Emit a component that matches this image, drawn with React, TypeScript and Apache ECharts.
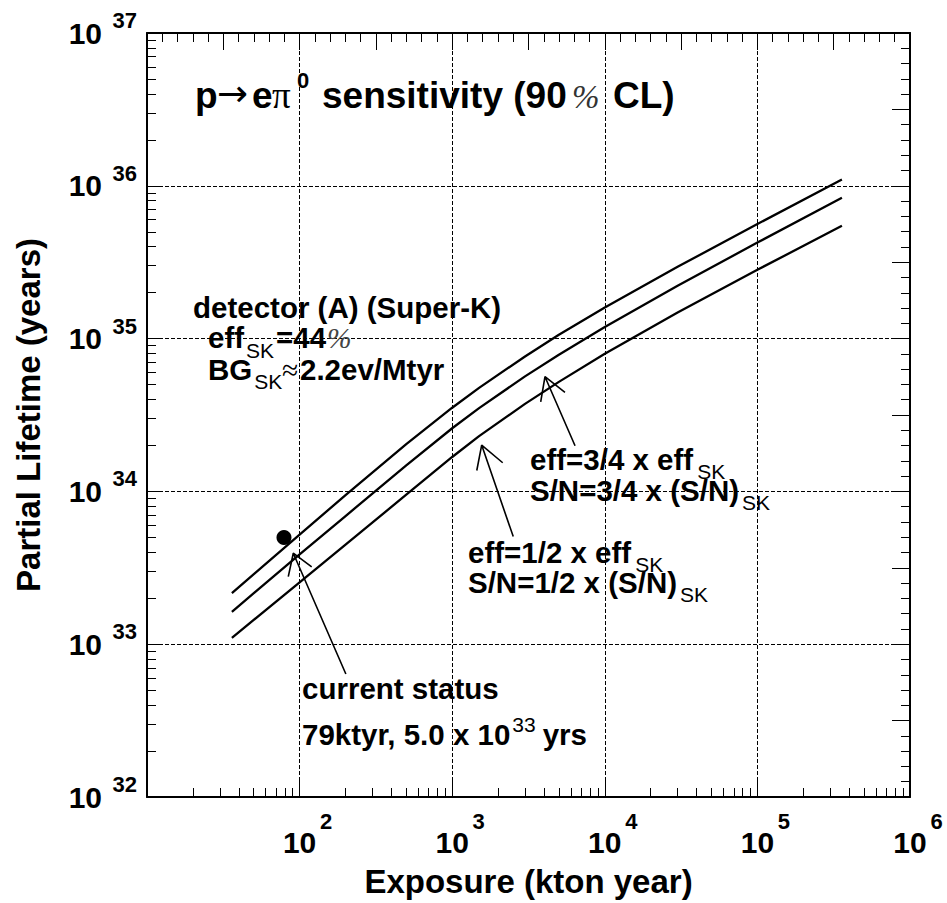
import React, { useEffect, useRef } from 'react';
import * as echarts from 'echarts';

// ---- data ----
const exposure = [36, 100, 200, 500, 1000, 1500, 3000, 5000, 10000, 30000, 100000, 358000];
const lifetimeSK = [2.16e33, 5.21e33, 9.46e33, 2.04e34, 3.53e34, 4.76e34, 7.64e34, 1.06e35, 1.6e35, 2.95e35, 5.62e35, 1.1e36];
const lifetime34 = [1.63e33, 3.87e33, 6.9e33, 1.48e34, 2.59e34, 3.51e34, 5.66e34, 7.85e34, 1.19e35, 2.22e35, 4.25e35, 8.36e35];
const lifetime12 = [1.1e33, 2.54e33, 4.49e33, 9.51e33, 1.68e34, 2.3e34, 3.74e34, 5.21e34, 7.96e34, 1.48e35, 2.82e35, 5.47e35];
const currentStatus = [79, 5.0e33];
// arrows: tail -> tip -> head1 -> tip -> head2 (data coords)
const arrowCurrent = [[201, 6.38e32], [90.9, 3.94e33], [84.3, 2.77e33], [90.9, 3.94e33], [120, 3.21e33]];
const arrowHalf = [[2512, 5.06e33], [1560, 2.01e34], [1449, 1.37e34], [1560, 2.01e34], [2143, 1.54e34]];
const arrowThreeQ = [[6383, 1.99e34], [4055, 5.63e34], [3802, 3.86e34], [4055, 5.63e34], [5483, 4.45e34]];
const xMin = 10, xMax = 1e6;
const yMin = 1e32, yMax = 1e37;
const xExpMin = 1, xExpMax = 6;
const yExpMin = 32, yExpMax = 37;
const minorMultipliers = [2, 3, 4, 5, 6, 7, 8, 9];

const SANS = "'Liberation Sans', Arial, Helvetica, sans-serif";
const SERIF = "'Liberation Serif', 'Times New Roman', serif";
const DEJAVU = "'DejaVu Sans', sans-serif";

type Seg = { t: string; x?: number; dx?: number; size: number; bold?: boolean; italic?: boolean; fam?: 'sans' | 'serif' | 'dejavu'; dy?: number; color?: string };

let measureCtx: CanvasRenderingContext2D | null = null;
function famOf(s: Seg) {
  return s.fam === 'serif' ? SERIF : s.fam === 'dejavu' ? DEJAVU : SANS;
}
function fontOf(s: Seg) {
  return `${s.italic ? 'italic ' : ''}${s.bold ? 'bold ' : ''}${s.size}px ${famOf(s)}`;
}
function measure(s: Seg) {
  if (!measureCtx) measureCtx = document.createElement('canvas').getContext('2d');
  if (!measureCtx) return s.t.length * s.size * 0.55;
  measureCtx.font = fontOf(s);
  return measureCtx.measureText(s.t).width;
}

function textLine(baseline: number, segs: Seg[]): any[] {
  let cur = 0;
  return segs.map((s) => {
    const x = s.x !== undefined ? s.x : cur + (s.dx || 0);
    cur = x + measure(s);
    const cen = s.fam === 'serif' ? 0.3375 : s.fam === 'dejavu' ? 0.38 : 0.3467;
    return {
      type: 'text',
      x,
      y: baseline + (s.dy || 0) - cen * s.size,
      z: 100,
      silent: true,
      style: {
        text: s.t,
        fill: s.color || '#000',
        fontSize: s.size,
        fontWeight: s.bold ? 'bold' : 'normal',
        fontStyle: s.italic ? 'italic' : 'normal',
        fontFamily: famOf(s),
        align: 'left',
        verticalAlign: 'middle',
      },
    };
  });
}

function minorTicks(e0: number, e1: number): number[] {
  const out: number[] = [];
  for (let e = e0; e < e1; e++) for (const m of minorMultipliers) out.push(e + Math.log10(m));
  return out;
}

export default function App() {
  const ref = useRef<HTMLDivElement>(null);
  useEffect(() => {
    if (!ref.current) return;
    const chart = echarts.init(ref.current, undefined, { renderer: 'svg' });
    const black = '#000';
    const grid = { left: 147, right: 37, top: 33, bottom: 106, containLabel: false };
    const dash = { show: true, lineStyle: { color: black, width: 1, type: [4, 2] } };
    const hiddenLine = { show: false };

    const xLabelRich = {
      p: { width: 16, fontSize: 22, lineHeight: 22, fontFamily: SANS },
      b: { fontSize: 30, fontWeight: 'bold', fontFamily: SANS, color: black, lineHeight: 64 },
      s: { fontSize: 22, fontWeight: 'bold', fontFamily: SANS, color: black, lineHeight: 22, verticalAlign: 'top', width: 16, align: 'right' },
    };
    const yLabelRich = {
      b: { fontSize: 30, fontWeight: 'bold', fontFamily: SANS, color: black, lineHeight: 47 },
      s: { fontSize: 22, fontWeight: 'bold', fontFamily: SANS, color: black, lineHeight: 22, verticalAlign: 'top', width: 35, align: 'right' },
    };

    const A = 29.5; // annotation font size
    const S = 21; // subscript size
    const texts: any[] = [
      ...textLine(108, [
        { t: 'p', x: 195, size: 37, bold: true },
        { t: '→', x: 217, size: 37, fam: 'dejavu' },
        { t: 'e', x: 252, size: 37, bold: true },
        { t: 'π', x: 272, size: 37, fam: 'serif' },
        { t: '0', x: 297, size: 22, bold: true, dy: -20 },
        { t: 'sensitivity (90', x: 322, size: 37, bold: true },
        { t: '%', x: 572, size: 33, fam: 'serif', italic: true, color: '#333' },
        { t: 'CL)', x: 613, size: 37, bold: true },
      ]),
      ...textLine(318, [{ t: 'detector (A) (Super-K)', x: 193, size: A, bold: true }]),
      ...textLine(348, [
        { t: 'eff', x: 208, size: A, bold: true },
        { t: 'SK', dx: 2, size: S, dy: 10 },
        { t: '=44', x: 276, size: A, bold: true },
        { t: '%', dx: 1, size: A, fam: 'serif', italic: true, color: '#444' },
      ]),
      ...textLine(380, [
        { t: 'BG', x: 208, size: A, bold: true },
        { t: 'SK', dx: 2, size: S, dy: 9 },
        { t: '≈', x: 282, size: A, fam: 'serif' },
        { t: '2.2ev/Mtyr', x: 300, size: A, bold: true },
      ]),
      ...textLine(470, [
        { t: 'eff=3/4 x eff', x: 530, size: A, bold: true },
        { t: 'SK', dx: 4, size: S, dy: 9 },
      ]),
      ...textLine(500.7, [
        { t: 'S/N=3/4 x (S/N)', x: 530, size: A, bold: true },
        { t: 'SK', dx: 3, size: S, dy: 9 },
      ]),
      ...textLine(562.7, [
        { t: 'eff=1/2 x eff', x: 468, size: A, bold: true },
        { t: 'SK', dx: 4, size: S, dy: 9 },
      ]),
      ...textLine(592.7, [
        { t: 'S/N=1/2 x (S/N)', x: 468, size: A, bold: true },
        { t: 'SK', dx: 3, size: S, dy: 9 },
      ]),
      ...textLine(699, [{ t: 'current status', x: 302, size: A, bold: true }]),
      ...textLine(745, [
        { t: '79ktyr, 5.0 x 10', x: 302, size: A, bold: true },
        { t: '33', dx: 2, size: S, dy: -13.5 },
        { t: 'yrs', dx: 7, size: A, bold: true },
      ]),
    ];

    const curve = (ys: number[]) => ({
      type: 'line',
      xAxisIndex: 0,
      yAxisIndex: 0,
      data: exposure.map((x, i) => [x, ys[i]]),
      showSymbol: false,
      symbol: 'none',
      smooth: false,
      lineStyle: { color: black, width: 2.3 },
      silent: true,
      z: 5,
    });
    const arrow = (pts: number[][]) => ({
      type: 'line',
      xAxisIndex: 0,
      yAxisIndex: 0,
      data: pts,
      showSymbol: false,
      symbol: 'none',
      lineStyle: { color: black, width: 1.6 },
      silent: true,
      z: 6,
    });

    chart.setOption({
      animation: false,
      backgroundColor: '#fff',
      grid,
      xAxis: [
        { type: 'log', logBase: 10, min: xMin, max: xMax, show: false, gridIndex: 0 },
        {
          type: 'value', position: 'bottom', min: xExpMin, max: xExpMax, interval: 1,
          axisLine: { show: true, onZero: false, lineStyle: { color: black, width: 2 } },
          axisTick: { show: true, inside: true, length: 18, lineStyle: { color: black, width: 1 } },
          axisLabel: {
            show: true, margin: 13,
            formatter: (v: number) => (v === xExpMin ? '' : `{p| }{b|10}{s|${v}}`),
            rich: xLabelRich,
          },
          splitLine: dash,
          name: 'Exposure (kton year)', nameLocation: 'middle', nameGap: 68,
          nameTextStyle: { fontSize: 33, fontWeight: 'bold', fontFamily: SANS, color: black },
        },
        {
          type: 'value', position: 'bottom', min: xExpMin, max: xExpMax,
          axisLine: { show: false, onZero: false },
          axisTick: { show: true, inside: true, length: 9, customValues: minorTicks(xExpMin, xExpMax), lineStyle: { color: black, width: 1 } },
          axisLabel: { show: false }, splitLine: hiddenLine,
        },
        {
          type: 'value', position: 'top', min: 0, max: 50, interval: 1,
          axisLine: { show: true, onZero: false, lineStyle: { color: black, width: 2 } },
          axisTick: { show: true, inside: true, length: 9, lineStyle: { color: black, width: 1 } },
          axisLabel: { show: false }, splitLine: hiddenLine,
        },
        {
          type: 'value', position: 'top', min: 0, max: 50, interval: 5,
          axisLine: { show: false, onZero: false },
          axisTick: { show: true, inside: true, length: 17, lineStyle: { color: black, width: 1 } },
          axisLabel: { show: false }, splitLine: hiddenLine,
        },
      ],
      yAxis: [
        { type: 'log', logBase: 10, min: yMin, max: yMax, show: false, gridIndex: 0 },
        {
          type: 'value', position: 'left', min: yExpMin, max: yExpMax, interval: 1,
          axisLine: { show: true, onZero: false, lineStyle: { color: black, width: 2 } },
          axisTick: { show: true, inside: true, length: 14, lineStyle: { color: black, width: 1 } },
          axisLabel: {
            show: true, margin: 10,
            formatter: (v: number) => `{b|10}{s|${v}}`,
            rich: yLabelRich,
          },
          splitLine: dash,
          name: 'Partial Lifetime (years)', nameLocation: 'middle', nameGap: 102, nameRotate: 90,
          nameTextStyle: { fontSize: 33, fontWeight: 'bold', fontFamily: SANS, color: black },
        },
        {
          type: 'value', position: 'left', min: yExpMin, max: yExpMax,
          axisLine: { show: false, onZero: false },
          axisTick: { show: true, inside: true, length: 9, customValues: minorTicks(yExpMin, yExpMax), lineStyle: { color: black, width: 1 } },
          axisLabel: { show: false }, splitLine: hiddenLine,
        },
        {
          type: 'value', position: 'right', min: 0, max: 50, interval: 1,
          axisLine: { show: true, onZero: false, lineStyle: { color: black, width: 2 } },
          axisTick: { show: true, inside: true, length: 9, lineStyle: { color: black, width: 1 } },
          axisLabel: { show: false }, splitLine: hiddenLine,
        },
        {
          type: 'value', position: 'right', min: 0, max: 50, interval: 5,
          axisLine: { show: false, onZero: false },
          axisTick: { show: true, inside: true, length: 18, lineStyle: { color: black, width: 1 } },
          axisLabel: { show: false }, splitLine: hiddenLine,
        },
      ],
      series: [
        curve(lifetimeSK),
        curve(lifetime34),
        curve(lifetime12),
        arrow(arrowCurrent),
        arrow(arrowHalf),
        arrow(arrowThreeQ),
        {
          type: 'scatter', xAxisIndex: 0, yAxisIndex: 0,
          data: [currentStatus], symbol: 'circle', symbolSize: 15,
          itemStyle: { color: black, opacity: 1 }, silent: true, z: 7,
        },
      ],
      graphic: texts,
    });
    return () => chart.dispose();
  }, []);
  return <div ref={ref} style={{ position: 'absolute', left: 0, top: 0, width: 947, height: 903, background: '#fff' }} />;
}
